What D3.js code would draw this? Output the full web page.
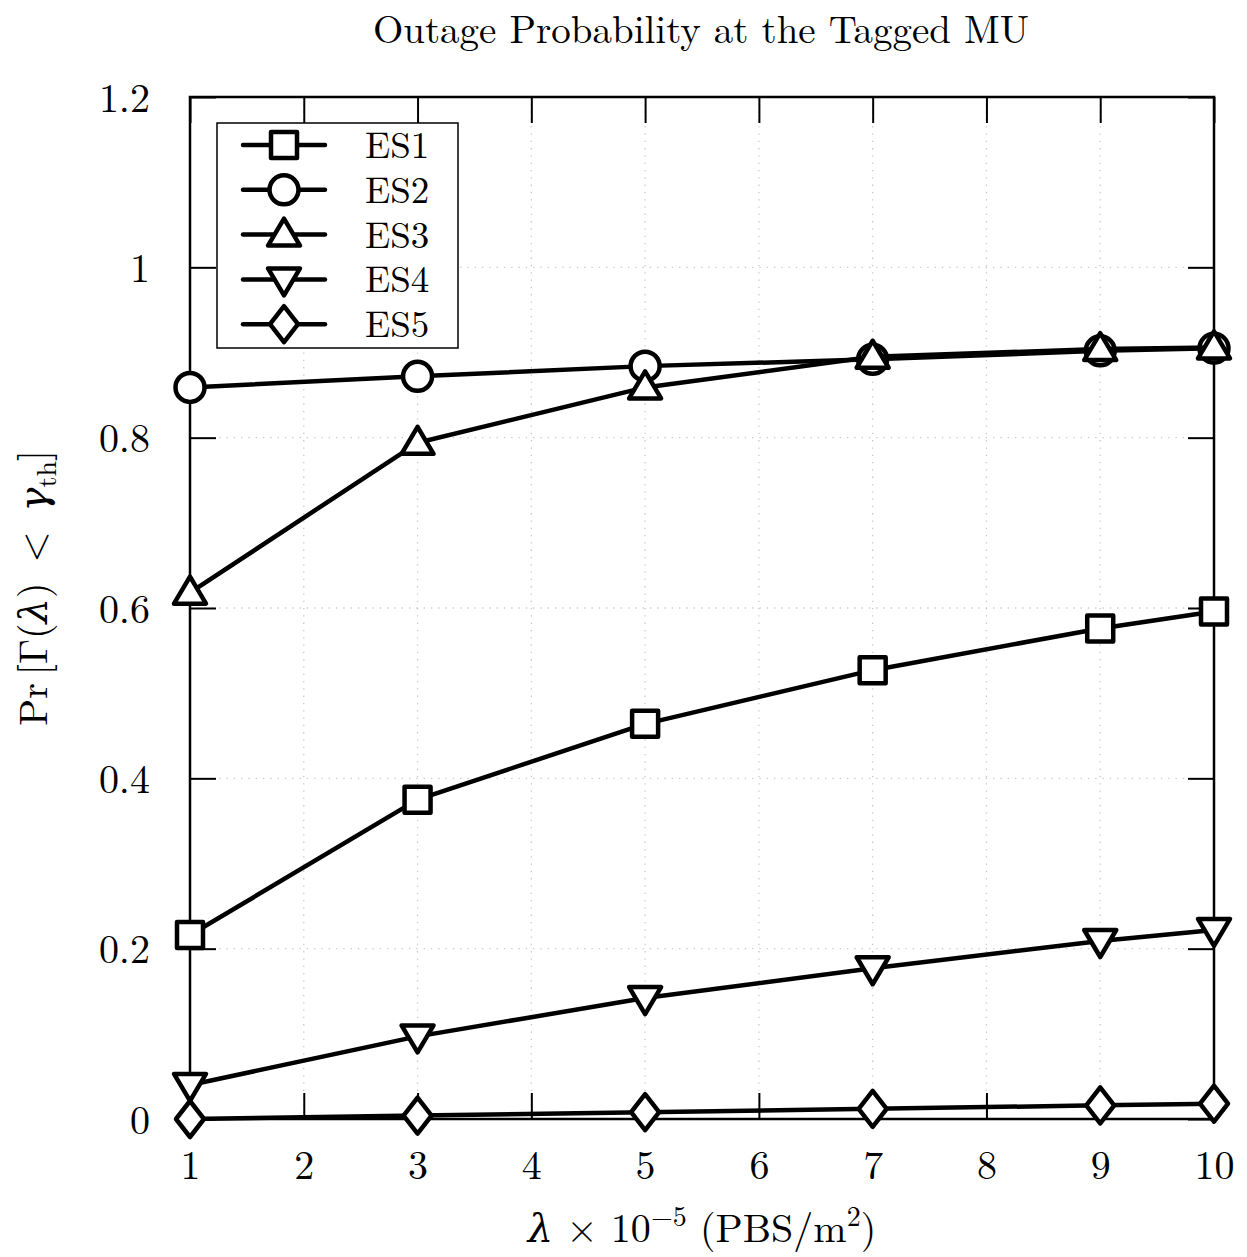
<!DOCTYPE html>
<html>
<head>
<meta charset="utf-8">
<script src="https://cdn.jsdelivr.net/npm/d3@7"></script>
<style>
  body { margin: 0; background: white; }
  text { font-family: "Latin Modern Roman", "CMU Serif", "DejaVu Serif", serif; }
</style>
</head>
<body>
<div id="chart"></div>
<script>
// Data
const xValues = [1, 3, 5, 7, 9, 10];
const es1 = [0.216, 0.375, 0.464, 0.527, 0.576, 0.596];
const es2 = [0.859, 0.872, 0.884, 0.892, 0.902, 0.905];
const es3 = [0.618, 0.794, 0.859, 0.895, 0.904, 0.906];
const es4 = [0.040, 0.097, 0.142, 0.177, 0.209, 0.222];
const es5 = [0.000, 0.004, 0.008, 0.012, 0.016, 0.018];
const seriesNames = ['ES1', 'ES2', 'ES3', 'ES4', 'ES5'];
const markerTypes = ['square', 'circle', 'triangleUp', 'triangleDown', 'diamond'];
const xTicks = [1, 2, 3, 4, 5, 6, 7, 8, 9, 10];
const yTicks = [0, 0.2, 0.4, 0.6, 0.8, 1, 1.2];

const series = [es1, es2, es3, es4, es5].map((vals, i) => ({
    name: seriesNames[i],
    marker: markerTypes[i],
    points: vals.map((v, j) => ({ x: xValues[j], y: v }))
}));

const width = 1247, height = 1257;
const margin = { top: 97, right: 33, bottom: 138, left: 190 };
const innerW = width - margin.left - margin.right;
const innerH = height - margin.top - margin.bottom;
const fontSize = 40;

const x = d3.scaleLinear().domain([1, 10]).range([0, innerW]);
const y = d3.scaleLinear().domain([0, 1.2]).range([innerH, 0]);

const svg = d3.select('#chart')
    .append('svg')
        .attr('width', width)
        .attr('height', height);

const g = svg.append('g')
    .attr('transform', `translate(${margin.left},${margin.top})`);

// marker paths
function markerPath(type) {
    switch (type) {
        case 'square': return 'M-13,-13H13V13H-13Z';
        case 'circle': return d3.symbol(d3.symbolCircle, Math.PI * 14.5 * 14.5)();
        case 'triangleUp': return 'M0,-16L16,11H-16Z';
        case 'triangleDown': return 'M0,16L16,-11H-16Z';
        case 'diamond': return 'M0,-18L14,0L0,18L-14,0Z';
    }
}

// grid
g.append('g')
    .selectAll('line')
    .data(xTicks)
    .enter()
    .append('line')
        .attr('x1', d => x(d)).attr('x2', d => x(d))
        .attr('y1', 0).attr('y2', innerH)
        .attr('stroke', '#c8c8c8')
        .attr('stroke-width', 1.3)
        .attr('stroke-dasharray', '1.3,6');

g.append('g')
    .selectAll('line')
    .data(yTicks)
    .enter()
    .append('line')
        .attr('x1', 0).attr('x2', innerW)
        .attr('y1', d => y(d)).attr('y2', d => y(d))
        .attr('stroke', '#c8c8c8')
        .attr('stroke-width', 1.3)
        .attr('stroke-dasharray', '1.3,6');

// axes with inward ticks on all sides
const tickLen = 26;
const xBottom = g.append('g')
    .attr('transform', `translate(0,${innerH})`)
    .call(d3.axisBottom(x).tickValues(xTicks).tickSize(-tickLen).tickPadding(tickLen + 6).tickFormat(d3.format('d')));
const xTop = g.append('g')
    .call(d3.axisTop(x).tickValues(xTicks).tickSize(-tickLen).tickFormat(''));
const yLeft = g.append('g')
    .call(d3.axisLeft(y).tickValues(yTicks).tickSize(-tickLen).tickPadding(tickLen + 14).tickFormat(d => d === 0 ? '0' : d === 1 ? '1' : d3.format('.1f')(d)));
const yRight = g.append('g')
    .attr('transform', `translate(${innerW},0)`)
    .call(d3.axisRight(y).tickValues(yTicks).tickSize(-tickLen).tickFormat(''));

[xBottom, xTop, yLeft, yRight].forEach(a => {
    a.select('.domain').remove();
    a.selectAll('.tick line').attr('stroke', '#000').attr('stroke-width', 2);
    a.selectAll('.tick text')
        .attr('fill', '#000')
        .style('font-size', fontSize + 'px');
});
xBottom.selectAll('.tick text').attr('dy', '0.71em');
yLeft.selectAll('.tick text').attr('dy', '0.35em');

// frame
g.append('rect')
    .attr('x', 0).attr('y', 0)
    .attr('width', innerW).attr('height', innerH)
    .attr('fill', 'none')
    .attr('stroke', '#000')
    .attr('stroke-width', 2.5);

// lines
const line = d3.line()
    .x(d => x(d.x))
    .y(d => y(d.y));

const seriesG = g.selectAll('.series')
    .data(series)
    .enter()
    .append('g')
        .attr('class', 'series');

seriesG.append('path')
    .attr('d', d => line(d.points))
    .attr('fill', 'none')
    .attr('stroke', '#000')
    .attr('stroke-width', 4.5)
    .attr('stroke-linejoin', 'round');

seriesG.each(function(s) {
    d3.select(this).selectAll('.mark')
        .data(s.points)
        .enter()
        .append('path')
            .attr('class', 'mark')
            .attr('transform', d => `translate(${x(d.x)},${y(d.y)})`)
            .attr('d', markerPath(s.marker))
            .attr('fill', 'white')
            .attr('stroke', '#000')
            .attr('stroke-width', 4.5)
            .attr('stroke-linejoin', 'round');
});

// legend
const legend = svg.append('g')
    .attr('transform', 'translate(217,123)');

legend.append('rect')
    .attr('width', 241)
    .attr('height', 225)
    .attr('fill', 'white')
    .attr('stroke', '#000')
    .attr('stroke-width', 1.5);

const legendRows = legend.selectAll('.row')
    .data(series)
    .enter()
    .append('g')
        .attr('transform', (d, i) => `translate(0,${22 + i * 44.8})`);

legendRows.append('line')
    .attr('x1', 26).attr('x2', 108)
    .attr('stroke', '#000')
    .attr('stroke-width', 4.5)
    .attr('stroke-linecap', 'round');

legendRows.append('path')
    .attr('transform', 'translate(67,0)')
    .attr('d', d => markerPath(d.marker))
    .attr('fill', 'white')
    .attr('stroke', '#000')
    .attr('stroke-width', 4.5)
    .attr('stroke-linejoin', 'round');

legendRows.append('text')
    .attr('x', 148)
    .attr('dy', '0.35em')
    .style('font-size', '37px')
    .text(d => d.name);

// title
svg.append('text')
    .attr('x', 701)
    .attr('y', 43)
    .attr('text-anchor', 'middle')
    .style('font-size', '39px')
    .text('Outage Probability at the Tagged MU');

// x label
const xl = svg.append('text')
    .attr('x', 702)
    .attr('y', 1242)
    .attr('text-anchor', 'middle')
    .style('font-size', fontSize + 'px');
xl.append('tspan').style('font-style', 'italic').text('λ');
xl.append('tspan').text(' × 10');
xl.append('tspan').attr('dy', -16).style('font-size', '28px').text('−5');
xl.append('tspan').attr('dy', 16).text(' (PBS/m');
xl.append('tspan').attr('dy', -16).style('font-size', '28px').text('2');
xl.append('tspan').attr('dy', 16).text(')');

// y label
const yl = svg.append('text')
    .attr('transform', 'translate(47,588) rotate(-90)')
    .attr('text-anchor', 'middle')
    .style('font-size', fontSize + 'px');
yl.append('tspan').text('Pr\u2009[Γ(');
yl.append('tspan').style('font-style', 'italic').text('λ');
yl.append('tspan').text(')\u2002<\u2002');
yl.append('tspan').style('font-style', 'italic').text('γ');
yl.append('tspan').attr('dy', 9).style('font-size', '28px').text('th');
yl.append('tspan').attr('dy', -9).text(']');
</script>
</body>
</html>
